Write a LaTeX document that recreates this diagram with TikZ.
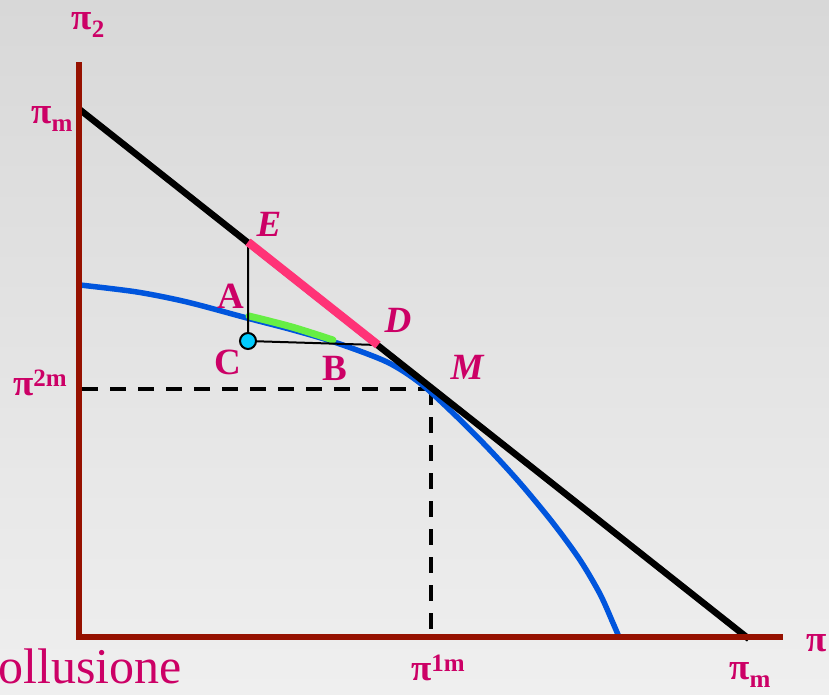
\documentclass[tikz,border=0pt]{standalone}
\usepackage{fontspec}
\setmainfont{Liberation Serif}
\definecolor{bgtop}{RGB}{216,216,216}
\definecolor{bgbot}{RGB}{239,239,239}
\definecolor{axiscol}{RGB}{150,17,0}
\definecolor{labcol}{RGB}{204,0,102}
\definecolor{curvecol}{RGB}{0,85,221}
\definecolor{greencol}{RGB}{102,238,68}
\definecolor{pinkcol}{RGB}{255,51,119}
\definecolor{dotcol}{RGB}{0,204,255}
\newcommand{\subsz}[1]{{\fontsize{25}{25}\selectfont #1}}
\tikzset{
  lab/.style={text=labcol, font=\fontsize{37}{40}\selectfont\bfseries, inner sep=0pt},
  itlab/.style={lab, font=\fontsize{37}{40}\selectfont\bfseries\itshape},
  axisline/.style={draw=axiscol, line width=6pt, line join=miter},
  budget/.style={draw=black, line width=6.5pt},
  frontier/.style={draw=curvecol, line width=5.5pt},
  guide/.style={draw=black, line width=4pt, dash pattern=on 16pt off 12pt},
  thin/.style={draw=black, line width=2pt},
}
\begin{document}
\begin{tikzpicture}[x=1pt,y=-1pt]
\useasboundingbox (0,0) rectangle (829,694);
\shade[top color=bgtop, bottom color=bgbot] (0,0) rectangle (829,694);
% points
\coordinate (ytop) at (79,62);
\coordinate (O) at (79,637);
\coordinate (xend) at (783,637);
\coordinate (P1) at (79,109);
\coordinate (P2) at (749,639);
\coordinate (E) at (248,242);
\coordinate (D) at (378,345);
\coordinate (C) at (248,341);
\coordinate (M) at (431,389);
\coordinate (Mx) at (431,637);
\coordinate (My) at (82,389);
% dashed guides
\draw[guide] (My) -- (M);
\draw[guide] (M) -- (Mx);
% frontier curve
\draw[frontier] plot[smooth, tension=0.5] coordinates {(80,285) (137,292) (187,302) (247,318) (293,330) (337,343) (387,362) (420,383) (453,413) (487,447) (520,483) (553,523) (580,560) (600,594) (613,623) (619,637)};
% green arc A-B
\draw[draw=greencol, line width=7pt, line cap=round] plot[smooth, tension=0.5] coordinates {(249,316) (292,327) (333,340)};
% thin triangle
\draw[thin] (E) -- (C) -- (D);
% budget line
\draw[budget] (P1) -- (P2);
% pink segment E-D
\draw[draw=pinkcol, line width=8.5pt] (E) -- (D);
% axes
\draw[axisline] (ytop) -- (O) -- (xend);
% point C
\node[circle, draw=black, line width=2pt, fill=dotcol, minimum size=16pt, inner sep=0pt] (Cdot) at (C) {};
% labels
\node[lab] (lpi2) at (88,25) {π\raisebox{-8pt}{\subsz{2}}};
\node[lab] (lpim) at (52,119) {π\raisebox{-8pt}{\subsz{m}}};
\node[lab] (lpi2m) at (40,383) {π\raisebox{9pt}{\subsz{2m}}};
\node[lab] (lpi1m) at (438,668) {π\raisebox{9pt}{\subsz{1m}}};
\node[lab] (lpimx) at (750,675) {π\raisebox{-8pt}{\subsz{m}}};
\node[lab, anchor=west] (lpi1) at (806,643) {π};
\node[itlab] (lE) at (269,224) {E};
\node[lab] (lA) at (231,296) {A};
\node[itlab] (lD) at (398,320) {D};
\node[lab] (lC) at (228,362) {C};
\node[lab] (lB) at (335,368) {B};
\node[itlab] (lM) at (467,367) {M};
\node[text=labcol, font=\fontsize{50}{54}\selectfont, inner sep=0pt, anchor=base west] (coll) at (-2,683) {ollusione};
\end{tikzpicture}
\end{document}
